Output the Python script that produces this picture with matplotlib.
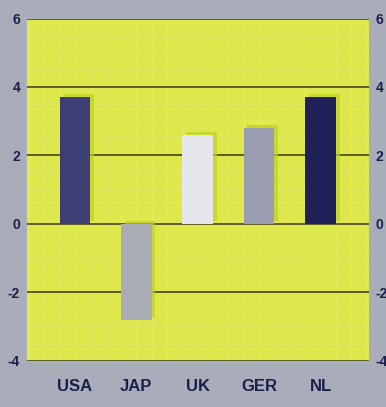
import matplotlib.pyplot as plt
import numpy as np

countries = ['USA', 'JAP', 'UK', 'GER', 'NL']
values = [3.7, -2.82, 2.6, 2.8, 3.72]
bar_colors = ['#3c3e74', '#a9abb5', '#e5e7ec', '#9a9cb1', '#1f2058']

bg = '#a9adb9'
panel = '#dee74c'
shadow = '#bcd21e'
navy = '#1c1f4e'

plt.rcParams['axes.unicode_minus'] = False
plt.rcParams['font.family'] = ['Liberation Sans', 'DejaVu Sans']

fig = plt.figure(figsize=(3.86, 4.07), dpi=100, facecolor=bg)
ax = fig.add_axes([0.07, 0.1138, 0.886, 0.8407])
ax.set_facecolor(panel)

x = np.arange(len(countries))

# faint light grid inside the panel
for yy in np.arange(-4, 6.01, 0.5):
    ax.axhline(yy, color='#eef38a', lw=0.7, alpha=0.4, zorder=0.5)
for xx in np.arange(-0.75, 4.8, 0.25):
    ax.axvline(xx, color='#eef38a', lw=0.7, alpha=0.35, zorder=0.5)

# major lines at the labelled values
for yy in [-4, -2, 0, 2, 4, 6]:
    ax.axhline(yy, color='#46461e', lw=1.2, zorder=1)

# offset shadow behind each bar
ax.bar(x + 0.06, values, width=0.5, bottom=0.08, color=shadow, alpha=0.7, zorder=2)
ax.bar(x, values, width=0.5, color=bar_colors, zorder=3)

ax.set_xlim(-0.78, 4.79)
ax.set_ylim(-4, 6)
ax.set_yticks([-4, -2, 0, 2, 4, 6])
ax.set_xticks(x)
ax.set_xticklabels(countries)
for s in ax.spines.values():
    s.set_visible(False)
ax.tick_params(axis='y', length=0, pad=5, labelsize=10, labelcolor=navy,
               left=True, right=True, labelleft=True, labelright=True)
ax.tick_params(axis='x', length=0, pad=13, labelsize=12, labelcolor=navy)
for t in ax.get_yticklabels():
    t.set_fontweight('bold')
for t in ax.get_xticklabels():
    t.set_fontweight('bold')

plt.savefig('out.png', dpi=100, facecolor=bg)
plt.close()
